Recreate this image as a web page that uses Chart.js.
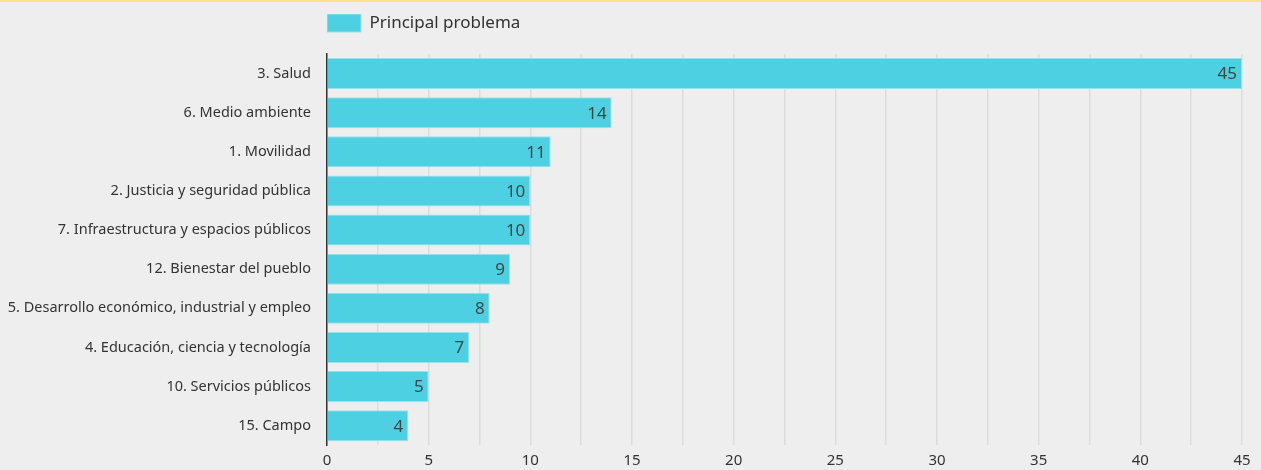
<!DOCTYPE html>
<html>
<head>
<meta charset="utf-8">
<script src="https://cdn.jsdelivr.net/npm/chart.js@4"></script>
<style>
  html, body { margin: 0; padding: 0; background: #eeeeee; }
  #wrap { position: relative; width: 1261px; height: 470px; border-top: 2px solid #fbe38c; box-sizing: border-box; }
  canvas { display: block; }
</style>
</head>
<body>
<div id="wrap"><canvas id="chart" width="1261" height="468"></canvas></div>
<script>
// --- data ---
const categories = [
  "3. Salud",
  "6. Medio ambiente",
  "1. Movilidad",
  "2. Justicia y seguridad pública",
  "7. Infraestructura y espacios públicos",
  "12. Bienestar del pueblo",
  "5. Desarrollo económico, industrial y empleo",
  "4. Educación, ciencia y tecnología",
  "10. Servicios públicos",
  "15. Campo"
];
const values = [45, 14, 11, 10, 10, 9, 8, 7, 5, 4];
const seriesName = "Principal problema";

Chart.defaults.font.family = "'Noto Sans', 'Open Sans', sans-serif";
Chart.defaults.color = "#333";

// value printed inside the end of each bar
const barValues = {
  id: "barValues",
  afterDatasetsDraw(chart) {
    const ctx = chart.ctx;
    const meta = chart.getDatasetMeta(0);
    ctx.save();
    ctx.font = "17px 'Noto Sans', sans-serif";
    ctx.fillStyle = "#444";
    ctx.textAlign = "right";
    ctx.textBaseline = "middle";
    meta.data.forEach((bar, i) => {
      ctx.fillText(values[i], bar.x - 5, bar.y + 1);
    });
    ctx.restore();
  }
};

// give the legend a fixed height so the plot starts lower
const legendSpace = {
  id: "legendSpace",
  beforeInit(chart) {
    const fit = chart.legend.fit;
    chart.legend.fit = function () {
      fit.call(this);
      this.height = 40;
    };
  }
};

new Chart(document.getElementById("chart").getContext("2d"), {
  type: "bar",
  data: {
    labels: categories,
    datasets: [{
      label: seriesName,
      data: values,
      backgroundColor: "#4dd0e1",
      borderColor: "#96e3ee",
      borderWidth: 1,
      categoryPercentage: 0.88,
      barPercentage: 0.9
    }]
  },
  options: {
    indexAxis: "y",
    responsive: false,
    animation: false,
    layout: { padding: { left: 8, right: 19, top: 12, bottom: 0 } },
    plugins: {
      legend: {
        position: "top",
        align: "start",
        fullSize: false,
        labels: {
          boxWidth: 34,
          boxHeight: 18,
          padding: 0,
          color: "#333",
          font: { size: 17 }
        }
      },
      tooltip: { enabled: false }
    },
    scales: {
      x: {
        min: 0,
        max: 45,
        afterFit(scale) { scale.height = 24; },
        ticks: {
          stepSize: 2.5,
          color: "#333",
          font: { size: 15 },
          padding: 6,
          maxRotation: 0,
          autoSkip: false,
          callback: v => (v % 5 === 0 ? v : "")
        },
        grid: { color: "#dcdcdc", lineWidth: 1.5, drawTicks: false },
        border: { display: false }
      },
      y: {
        afterFit(scale) { scale.width = 319; },
        ticks: { color: "#333", font: { size: 14.5 }, padding: 16 },
        grid: { display: false, drawTicks: false },
        border: { display: true, color: "#333", width: 1.5 }
      }
    }
  },
  plugins: [barValues, legendSpace]
});
</script>
</body>
</html>
